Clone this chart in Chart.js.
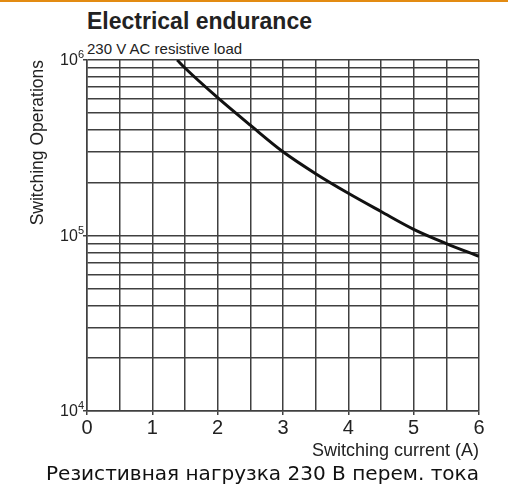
<!DOCTYPE html>
<html>
<head>
<meta charset="utf-8">
<script src="https://cdn.jsdelivr.net/npm/chart.js@4.4.1/dist/chart.umd.min.js"></script>
<style>
  html,body{margin:0;padding:0;background:#fff;}
  #wrap{position:relative;width:508px;height:486px;overflow:hidden;}
  #bar{position:absolute;left:0;top:0;width:508px;height:2px;background:#e38b12;}
  .txt{position:absolute;white-space:nowrap;line-height:1;color:#222;font-family:"Liberation Sans",Arial,sans-serif;}
  #title{left:87px;top:10px;font-size:23px;font-weight:bold;}
  #sub{left:87px;top:41px;font-size:15px;}
  #cap{left:46px;top:464px;font-size:19px;color:#111;font-family:"DejaVu Sans",sans-serif;transform-origin:0 0;}
  canvas{position:absolute;left:0;top:0;}
</style>
</head>
<body>
<div id="wrap">
  <div id="bar"></div>
  <div class="txt" id="title">Electrical endurance</div>
  <div class="txt" id="sub">230 V AC resistive load</div>
  <canvas id="chart" width="508" height="486"></canvas>
  <div class="txt" id="cap">Резистивная нагрузка 230 В перем. тока</div>
</div>
<script>
// data
const current = [1.38, 1.5, 2, 2.5, 3, 3.5, 4, 4.5, 5, 5.5, 6];
const operations = [1000000, 900000, 610000, 425000, 300000, 225000, 174000, 137000, 108500, 90000, 76000];

// axes
const xMin = 0, xMax = 6, xStep = 0.5;
const yGrid = [10000, 20000, 30000, 40000, 50000, 60000, 70000, 80000, 90000,
  100000, 200000, 300000, 400000, 500000, 600000, 700000, 800000, 900000, 1000000];
const yLabels = [10000, 100000, 1000000];
const yLabelExp = ['4', '5', '6'];

const gridCol = '#404040';
const isPow10 = v => yLabels.includes(v);

// fit caption width
const cap = document.getElementById('cap');
cap.style.transform = 'scaleX(' + (433 / cap.getBoundingClientRect().width) + ')';

const powLabels = {
  id: 'powLabels',
  afterDraw(chart){
    const ctx = chart.ctx, y = chart.scales.y;
    ctx.save();
    ctx.fillStyle = '#222';
    ctx.textAlign = 'right';
    ctx.textBaseline = 'middle';
    yLabels.forEach((v, i) => {
      const py = y.getPixelForValue(v);
      ctx.font = '11px "Liberation Sans", Arial, sans-serif';
      ctx.fillText(yLabelExp[i], 84, py - 5);
      const w = ctx.measureText(yLabelExp[i]).width;
      ctx.font = '16px "Liberation Sans", Arial, sans-serif';
      ctx.fillText('10', 84 - w, py + 1);
    });
    ctx.restore();
  }
};

new Chart(document.getElementById('chart'), {
  type: 'line',
  data: {
    datasets: [{
      data: current.map((x, i) => ({x, y: operations[i]})),
      borderColor: '#111',
      borderWidth: 3,
      pointRadius: 0,
      fill: false,
      cubicInterpolationMode: 'monotone'
    }]
  },
  options: {
    responsive: false,
    animation: false,
    layout: {padding: {left: 0, top: 60, right: 29, bottom: 0}},
    plugins: {legend: {display: false}, tooltip: {enabled: false}},
    scales: {
      x: {
        type: 'linear', min: xMin, max: xMax,
        afterFit(s){ s.height = 75; },
        ticks: {
          stepSize: xStep, autoSkip: false, padding: 1, color: '#222',
          font: {family: '"Liberation Sans", Arial, sans-serif', size: 20},
          callback: v => Number.isInteger(v) ? String(v) : ''
        },
        grid: {
          color: gridCol, lineWidth: 1.5, tickLength: 4,
          tickColor: c => (c.tick && Number.isInteger(c.tick.value)) ? gridCol : 'rgba(0,0,0,0)'
        },
        border: {color: gridCol, width: 1.5},
        title: {
          display: true, text: 'Switching current (A)', align: 'end', color: '#222',
          font: {family: '"Liberation Sans", Arial, sans-serif', size: 18},
          padding: {top: 0, bottom: 24}
        }
      },
      y: {
        type: 'logarithmic', min: 10000, max: 1000000,
        afterBuildTicks(s){ s.ticks = yGrid.map(v => ({value: v, major: isPow10(v)})); },
        afterFit(s){ s.width = 87; },
        ticks: {display: false, autoSkip: false},
        grid: {
          color: gridCol, lineWidth: 1.5, tickLength: 4,
          tickColor: c => (c.tick && isPow10(c.tick.value)) ? gridCol : 'rgba(0,0,0,0)'
        },
        border: {color: gridCol, width: 1.5},
        title: {
          display: true, text: 'Switching Operations', align: 'end', color: '#222',
          font: {family: '"Liberation Sans", Arial, sans-serif', size: 17.5},
          padding: {top: 28, bottom: 0}
        }
      }
    }
  },
  plugins: [powLabels]
});
</script>
</body>
</html>
